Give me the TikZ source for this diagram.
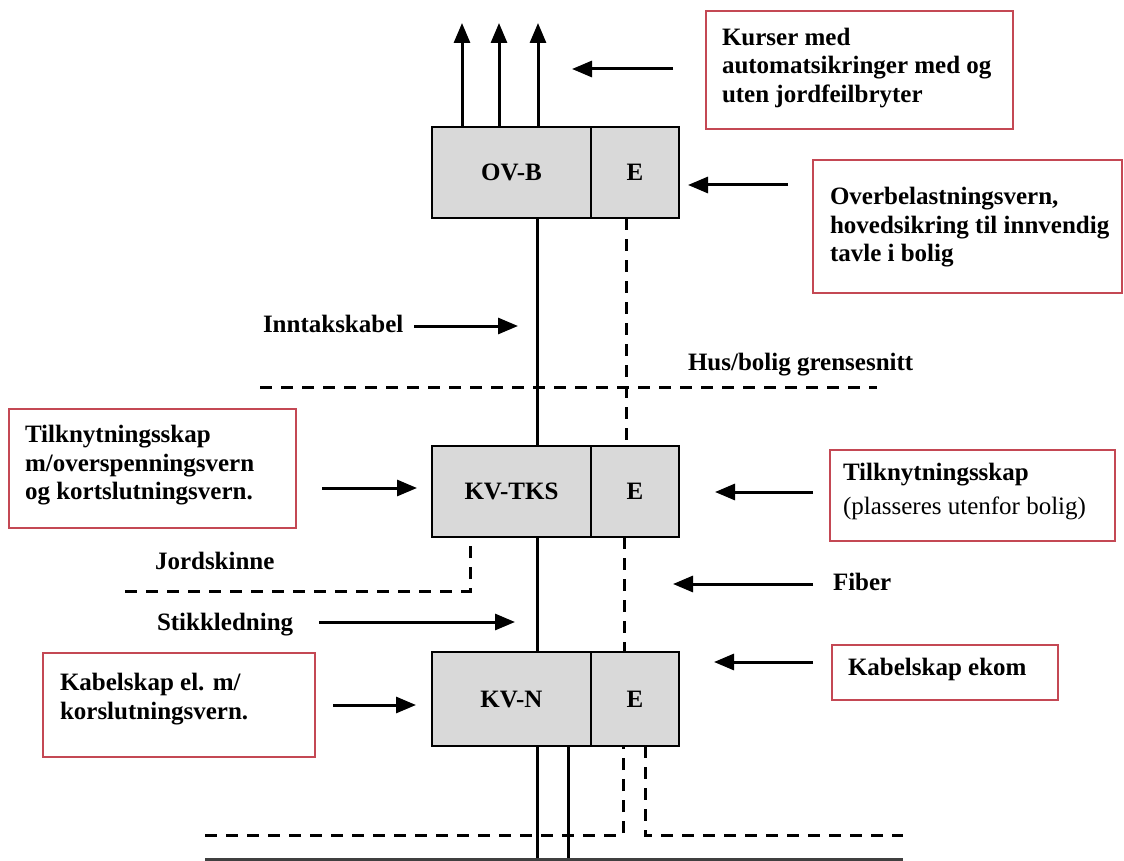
\documentclass[tikz,border=0pt]{standalone}
\usepackage{fontspec}
\setmainfont{Liberation Serif}
\usetikzlibrary{arrows.meta}
\definecolor{boxred}{RGB}{196,72,84}
\definecolor{cabgray}{RGB}{217,217,217}
\begin{document}
\begin{tikzpicture}[x=1pt,y=-1pt,
  every node/.style={font=\fontsize{25}{28.5}\selectfont\bfseries, inner sep=0pt, outer sep=0pt},
  cab/.style={draw=black, line width=1.8pt, fill=cabgray, anchor=north west},
  note/.style={draw=boxred, line width=1.8pt, fill=white, anchor=north west},
  notetext/.style={anchor=west, align=left},
  lbl/.style={anchor=base west},
  wire/.style={line width=3pt},
  fibre/.style={line width=3pt, dash pattern=on 12pt off 9pt},
  ptr/.style={line width=3pt, -{Triangle[length=20pt,width=16pt]}},
]
\useasboundingbox (0,0) rectangle (1124,861);
\fill[white] (0,0) rectangle (1124,861);

% ---- cabinets ----
\node[cab, minimum width=159pt, minimum height=91pt] (ovb)    at (432,127) {OV-B};
\node[cab, minimum width=88pt,  minimum height=91pt] (ovbE)   at (591,127) {E};
\node[cab, minimum width=159pt, minimum height=91pt] (kvtks)  at (432,446) {KV-TKS};
\node[cab, minimum width=88pt,  minimum height=91pt] (kvtksE) at (591,446) {E};
\node[cab, minimum width=159pt, minimum height=94pt] (kvn)    at (432,652) {KV-N};
\node[cab, minimum width=88pt,  minimum height=94pt] (kvnE)   at (591,652) {E};

% ---- explanatory boxes ----
\node[note, minimum width=307pt, minimum height=118pt] (kurser) at (706,11) {};
\node[notetext] (kurserT) at ([xshift=16pt,yshift=2pt]kurser.west)
  {Kurser med\\automatsikringer med og\\uten jordfeilbryter};

\node[note, minimum width=309pt, minimum height=133pt] (overb) at (813,160) {};
\node[notetext] (overbT) at ([xshift=17pt,yshift=-1pt]overb.west)
  {Overbelastningsvern,\\hovedsikring til innvendig\\tavle i bolig};

\node[note, minimum width=287pt, minimum height=119pt] (tilkL) at (9,409) {};
\node[notetext] (tilkLT) at ([xshift=16pt,yshift=3pt]tilkL.west)
  {Tilknytningsskap\\m/overspenningsvern\\og kortslutningsvern.};

\node[note, minimum width=285pt, minimum height=91pt] (tilkR) at (830,450) {};
\node[notetext, font=\fontsize{25}{34}\selectfont] (tilkRT) at ([xshift=13pt,yshift=4pt]tilkR.west)
  {\bfseries Tilknytningsskap\\\mdseries (plasseres utenfor bolig)};

\node[note, minimum width=272pt, minimum height=104pt] (kabelEl) at (43,653) {};
\node[notetext] (kabelElT) at ([xshift=17pt,yshift=6pt]kabelEl.west)
  {Kabelskap el. m/\\korslutningsvern.};

\node[note, minimum width=226pt, minimum height=55pt] (ekom) at (832,645) {};
\node[notetext] (ekomT) at ([xshift=16pt,yshift=3pt]ekom.west) {Kabelskap ekom};

% ---- free labels ----
\node[lbl] (inntak) at (263,332.5) {Inntakskabel};
\node[lbl] (hus)    at (688,370.5) {Hus/bolig grensesnitt};
\node[lbl] (jord)   at (155,569.5) {Jordskinne};
\node[lbl] (stikk)  at (157,630.5) {Stikkledning};
\node[lbl] (fiber)  at (833,590.5) {Fiber};

% ---- outgoing circuits ----
\coordinate (k1) at (462,23);
\coordinate (k2) at (499,23);
\coordinate (k3) at (538,23);
\draw[ptr] ([xshift=30pt]ovb.north west) -- (k1);
\draw[ptr] ([xshift=67pt]ovb.north west) -- (k2);
\draw[ptr] ([xshift=106pt]ovb.north west) -- (k3);

% ---- power and fibre runs between cabinets ----
\draw[wire]  ([xshift=105pt]ovb.south west) -- ([xshift=105pt]kvtks.north west);
\draw[wire]  ([xshift=105pt]kvtks.south west) -- ([xshift=105pt]kvn.north west);
\draw[fibre] ([xshift=35pt]ovbE.south west) -- ([xshift=35pt]kvtksE.north west);
\draw[fibre] ([xshift=33pt]kvtksE.south west) -- ([xshift=33pt]kvnE.north west);

% ---- cables leaving the cable cabinet ----
\coordinate (c1) at (537,861);
\coordinate (c2) at (568,861);
\draw[wire] ([xshift=105pt]kvn.south west) -- (c1);
\draw[wire] ([xshift=136pt]kvn.south west) -- (c2);

% ---- boundaries ----
\coordinate (h1) at (260,387);
\coordinate (h2) at (877,387);
\draw[fibre] (h1) -- (h2);

\coordinate (j1) at (125,591);
\draw[fibre] (j1) -- (470,591) -- ([xshift=38pt]kvtks.south west);

\coordinate (g1) at (205,835);
\coordinate (g2) at (903,835);
\draw[fibre] (g1) -- (623,835) -- ([xshift=32pt]kvnE.south west);
\draw[fibre] ([xshift=54pt]kvnE.south west) -- (645,835) -- (g2);

\coordinate (b1) at (205,859);
\coordinate (b2) at (903,859);
\draw[line width=3pt, black!75] (b1) -- (b2);

% ---- pointer arrows ----
\coordinate (p1s) at (673,69);  \coordinate (p1e) at (572,69);
\coordinate (p2s) at (788,185); \coordinate (p2e) at (688,185);
\coordinate (p3e) at (518,326);
\coordinate (p4s) at (322,488); \coordinate (p4e) at (417,488);
\coordinate (p5s) at (813,492); \coordinate (p5e) at (715,492);
\coordinate (p6s) at (813,584); \coordinate (p6e) at (673,584);
\coordinate (p7e) at (515,622);
\coordinate (p8s) at (333,705); \coordinate (p8e) at (416,705);
\coordinate (p9s) at (813,662); \coordinate (p9e) at (714,662);

\draw[ptr] (p1s) -- (p1e);
\draw[ptr] (p2s) -- (p2e);
\draw[ptr] ([xshift=11pt]inntak.base east |- p3e) -- (p3e);
\draw[ptr] (p4s) -- (p4e);
\draw[ptr] (p5s) -- (p5e);
\draw[ptr] (p6s) -- (p6e);
\draw[ptr] ([xshift=26pt]stikk.base east |- p7e) -- (p7e);
\draw[ptr] (p8s) -- (p8e);
\draw[ptr] (p9s) -- (p9e);
\end{tikzpicture}
\end{document}
